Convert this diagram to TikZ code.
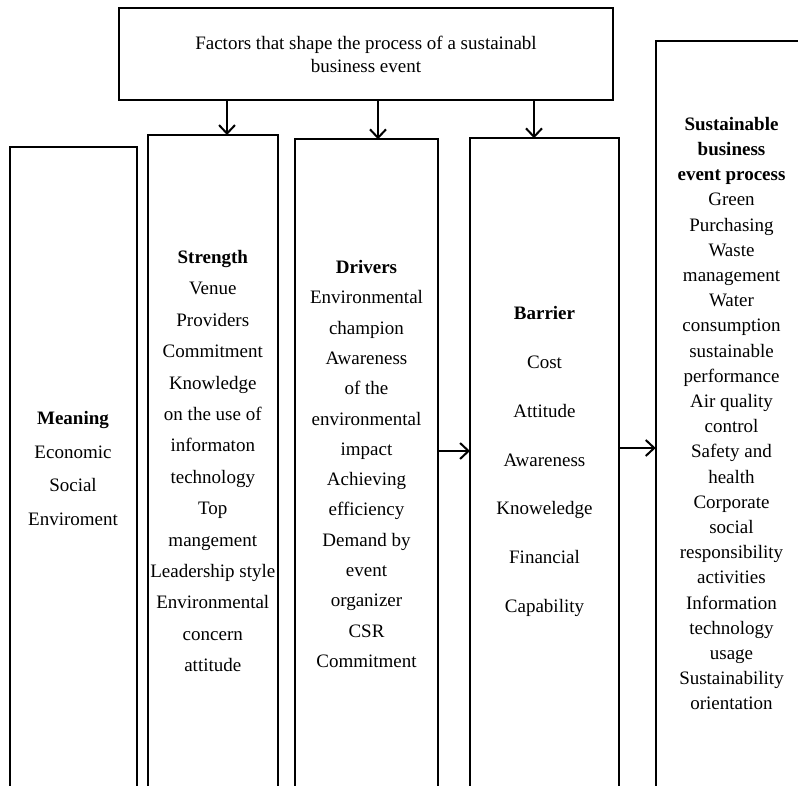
\documentclass[tikz,border=0pt]{standalone}
\usepackage{fontspec}
\setmainfont{Liberation Serif}
\usetikzlibrary{arrows.meta}
\tikzset{
  box/.style={draw, line width=1.9pt, inner sep=0pt, outer sep=0pt, anchor=north west},
  lbl/.style={align=center, inner sep=0pt, outer sep=0pt},
  arr/.style={-{Straight Barb[length=8.5pt,width=16pt,line width=2pt]}, line width=1.8pt}
}
\newcommand{\fsz}[1]{\fontsize{19pt}{#1}\selectfont}
\begin{document}
\begin{tikzpicture}[x=1pt,y=-1pt]
\useasboundingbox (0,0) rectangle (798,786);
\clip (0,0) rectangle (798,786);
% boxes
\node[box, minimum width=493.7pt, minimum height=92pt] (top) at (119,8) {};
\node[box, minimum width=127.2pt, minimum height=653.3pt] (meaning) at (10,146.7) {};
\node[box, minimum width=129.7pt, minimum height=665pt] (strength) at (148,135) {};
\node[box, minimum width=143.6pt, minimum height=660.7pt] (drivers) at (294.7,139.3) {};
\node[box, minimum width=149pt, minimum height=661.7pt] (barrier) at (470,138.3) {};
\node[box, minimum width=151.3pt, minimum height=759.3pt] (sbep) at (655.7,40.7) {};
% texts
\node[lbl, font=\fsz{23pt}] (ttop) at (366,54.5) {Factors that shape the process of a sustainabl\\business event};
\node[lbl, font=\fsz{33.7pt}] (tmeaning) at (73,468.5) {\textbf{Meaning}\\Economic\\Social\\Enviroment};
\node[lbl, font=\fsz{31.4pt}] (tstrength) at (212.8,461) {\textbf{Strength}\\Venue\\Providers\\Commitment\\Knowledge\\on the use of\\informaton\\technology\\Top\\mangement\\Leadership style\\Environmental\\concern\\attitude};
\node[lbl, font=\fsz{30.3pt}] (tdrivers) at (366.5,464) {\textbf{Drivers}\\Environmental\\champion\\Awareness\\of the\\environmental\\impact\\Achieving\\efficiency\\Demand by\\event\\organizer\\CSR\\Commitment};
\node[lbl, font=\fsz{48.8pt}] (tbarrier) at (544.5,461.5) {\textbf{Barrier}\\Cost\\Attitude\\Awareness\\Knoweledge\\Financial\\Capability};
\node[lbl, font=\fsz{25.2pt}] (tsbep) at (731.5,413.5) {\textbf{Sustainable}\\\textbf{business}\\\textbf{event process}\\Green\\Purchasing\\Waste\\management\\Water\\consumption\\sustainable\\performance\\Air quality\\control\\Safety and\\health\\Corporate\\social\\responsibility\\activities\\Information\\technology\\usage\\Sustainability\\orientation};
% connector positions
\coordinate (c1) at (227,0);
\coordinate (c2) at (378,0);
\coordinate (c3) at (534,0);
\coordinate (h1) at (0,451);
\coordinate (h2) at (0,448);
\draw[arr] (c1 |- top.south) -- (c1 |- strength.north);
\draw[arr] (c2 |- top.south) -- (c2 |- drivers.north);
\draw[arr] (c3 |- top.south) -- (c3 |- barrier.north);
\draw[arr] (drivers.east |- h1) -- (barrier.west |- h1);
\draw[arr] (barrier.east |- h2) -- (sbep.west |- h2);
\end{tikzpicture}
\end{document}
